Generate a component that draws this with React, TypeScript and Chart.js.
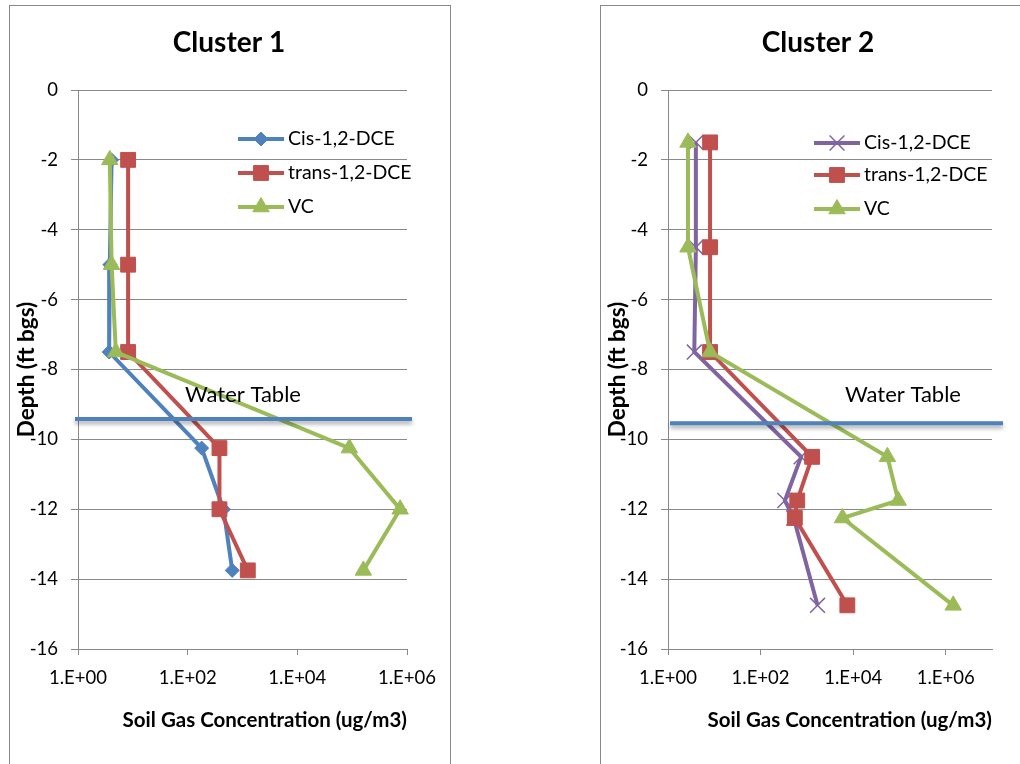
import React, { useEffect, useRef } from 'react';
import { Chart, registerables } from 'chart.js';
import { drawPoint } from 'chart.js/helpers';

Chart.register(...registerables);

const FONT = 'Lato, Carlito, "Liberation Sans", sans-serif';
const GRID = '#888888';

const seriesNames = ['Cis-1,2-DCE', 'trans-1,2-DCE', 'VC'];
const xTickValues = [1, 100, 10000, 1000000];
const xTickLabels = ['1.E+00', '1.E+02', '1.E+04', '1.E+06'];
const xAxisTitle = 'Soil Gas Concentration (ug/m3)';
const yAxisTitle = 'Depth (ft bgs)';
const waterTableLabel = 'Water Table';

// Cluster 1
const c1Depth = [-2, -5, -7.5, -10.25, -12, -13.75];
const c1Cis = [4.1, 3.8, 3.7, 180, 450, 650];
const c1Trans = [8.2, 8.2, 8.2, 380, 380, 1250];
const c1VC = [3.8, 4.1, 4.9, 89000, 750000, 160000];
const c1WaterTable = -9.42;
const c1XMax = 1000000;

// Cluster 2
const c2Depth = [-1.5, -4.5, -7.5, -10.5, -11.75, -12.25, -14.75];
const c2Cis = [4.0, 4.0, 3.7, 750, 335, 520, 1700];
const c2Trans = [8.1, 8.1, 8.1, 1300, 620, 550, 7500];
const c2VC = [2.7, 2.7, 8.1, 55000, 94000, 5900, 1450000];
const c2WaterTable = -9.54;
const c2XMax = 10000000;

type Series = {
  label: string;
  values: number[];
  color: string;
  pointStyle: string;
  radius: number;
  pointBorderWidth: number;
};

type PanelCfg = {
  title: string;
  depths: number[];
  series: Series[];
  xMax: number;
  waterTable: number;
  width: number;
  height: number;
  yAxisWidth: number;
  rightSpace: number;
  wtLeft: number;
  wtRight: number;
  wtLabelX: number;
  wtLabelY: number;
  legendX: number;
  legendRows: number[];
};

function buildChart(canvas: HTMLCanvasElement, p: PanelCfg) {
  const datasets = p.series.map((s, i) => ({
    label: s.label,
    data: p.depths.map((d, j) => ({ x: s.values[j], y: d })),
    xAxisID: 'x',
    yAxisID: 'y',
    showLine: true,
    borderColor: s.color,
    backgroundColor: s.color,
    borderWidth: 4,
    pointStyle: s.pointStyle,
    pointRadius: s.radius,
    pointHoverRadius: s.radius,
    pointBackgroundColor: s.color,
    pointBorderColor: s.color,
    pointBorderWidth: s.pointBorderWidth,
    tension: 0,
    clip: false,
    order: p.series.length - 1 - i,
  }));

  const overlay = {
    id: 'overlay',
    afterDatasetsDraw(chart: any) {
      const { ctx, chartArea, scales } = chart;
      // water table line
      const y = scales.y.getPixelForValue(p.waterTable);
      ctx.save();
      ctx.shadowColor = 'rgba(0,0,0,0.35)';
      ctx.shadowBlur = 4;
      ctx.shadowOffsetY = 3;
      ctx.strokeStyle = '#4F81BD';
      ctx.lineWidth = 4;
      ctx.beginPath();
      ctx.moveTo(chartArea.left + p.wtLeft, y);
      ctx.lineTo(chartArea.right + p.wtRight, y);
      ctx.stroke();
      ctx.restore();

      ctx.save();
      ctx.font = `22px ${FONT}`;
      ctx.fillStyle = '#000';
      ctx.textBaseline = 'alphabetic';
      ctx.textAlign = 'left';
      ctx.fillText(waterTableLabel, chartArea.left + p.wtLabelX, chartArea.top + p.wtLabelY);
      ctx.restore();

      // legend
      p.series.forEach((s, i) => {
        const ly = chartArea.top + p.legendRows[i];
        const lx = chartArea.left + p.legendX;
        ctx.save();
        ctx.strokeStyle = s.color;
        ctx.lineWidth = 4;
        ctx.beginPath();
        ctx.moveTo(lx, ly);
        ctx.lineTo(lx + 46, ly);
        ctx.stroke();
        ctx.fillStyle = s.color;
        ctx.strokeStyle = s.color;
        ctx.lineWidth = s.pointBorderWidth;
        drawPoint(ctx, { pointStyle: s.pointStyle as any, radius: s.radius, borderWidth: s.pointBorderWidth, rotation: 0 }, lx + 23, ly);
        ctx.fillStyle = '#000';
        ctx.font = `19.5px ${FONT}`;
        ctx.textBaseline = 'middle';
        ctx.textAlign = 'left';
        ctx.fillText(s.label, lx + 50, ly);
        ctx.restore();
      });
    },
  };

  return new Chart(canvas, {
    type: 'scatter',
    data: { datasets: datasets as any },
    options: {
      responsive: false,
      animation: false,
      devicePixelRatio: 1,
      layout: { padding: 0 },
      events: [],
      plugins: {
        legend: { display: false },
        tooltip: { enabled: false },
        title: {
          display: true,
          text: p.title,
          color: '#000',
          font: { family: FONT, size: 28, weight: 'bold' },
          padding: { top: 20, bottom: 30.4 },
        },
      },
      scales: {
        x: {
          type: 'logarithmic',
          position: 'bottom',
          min: 1,
          max: p.xMax,
          afterBuildTicks: (s: any) => {
            s.ticks = xTickValues.map((v) => ({ value: v }));
          },
          afterFit: (s: any) => {
            s.height = 115;
          },
          ticks: {
            callback: (_v: any, i: number) => xTickLabels[i],
            color: '#000',
            font: { family: FONT, size: 18.5 },
            padding: 12,
            maxRotation: 0,
            autoSkip: false,
          },
          grid: { drawOnChartArea: false, drawTicks: true, tickLength: 6, color: GRID, lineWidth: 1 },
          border: { display: true, color: GRID, width: 1 },
          title: {
            display: true,
            text: xAxisTitle,
            align: 'end',
            color: '#000',
            font: { family: FONT, size: 20.5, weight: 'bold' },
            padding: { top: 0, bottom: 31.5 },
          },
        } as any,
        y: {
          type: 'linear',
          position: 'left',
          min: -16,
          max: 0,
          afterFit: (s: any) => {
            s.width = p.yAxisWidth;
          },
          ticks: {
            stepSize: 2,
            color: '#000',
            font: { family: FONT, size: 18.5 },
            padding: 13,
          },
          grid: { color: GRID, lineWidth: 1, tickLength: 7, drawTicks: true },
          border: { display: true, color: GRID, width: 1 },
          title: {
            display: true,
            text: yAxisTitle,
            color: '#000',
            font: { family: FONT, size: 22.5, weight: 'bold' },
            padding: { top: 3, bottom: 0 },
          },
        } as any,
        spacer: {
          type: 'linear',
          position: 'right',
          display: true,
          afterFit: (s: any) => {
            s.width = p.rightSpace;
          },
          ticks: { display: false },
          grid: { display: false, drawTicks: false },
          border: { display: false },
        } as any,
      },
    },
    plugins: [overlay],
  });
}

function Panel({ cfg, left, top }: { cfg: PanelCfg; left: number; top: number }) {
  const ref = useRef<HTMLCanvasElement | null>(null);
  useEffect(() => {
    if (!ref.current) return;
    const chart = buildChart(ref.current, cfg);
    return () => chart.destroy();
  }, [cfg]);
  return (
    <canvas
      ref={ref}
      width={cfg.width}
      height={cfg.height}
      style={{ position: 'absolute', left, top, width: cfg.width, height: cfg.height }}
    />
  );
}

const panel1: PanelCfg = {
  title: 'Cluster 1',
  depths: c1Depth,
  series: [
    { label: seriesNames[0], values: c1Cis, color: '#4F81BD', pointStyle: 'rectRot', radius: 7, pointBorderWidth: 1 },
    { label: seriesNames[1], values: c1Trans, color: '#C0504D', pointStyle: 'rect', radius: 10.5, pointBorderWidth: 1 },
    { label: seriesNames[2], values: c1VC, color: '#9BBB59', pointStyle: 'triangle', radius: 9.5, pointBorderWidth: 1 },
  ],
  xMax: c1XMax,
  waterTable: c1WaterTable,
  width: 438,
  height: 758,
  yAxisWidth: 68,
  rightSpace: 41,
  wtLeft: -3,
  wtRight: 5,
  wtLabelX: 107,
  wtLabelY: 311.7,
  legendX: 160,
  legendRows: [49, 83, 117],
};

const panel2: PanelCfg = {
  title: 'Cluster 2',
  depths: c2Depth,
  series: [
    { label: seriesNames[0], values: c2Cis, color: '#8064A2', pointStyle: 'crossRot', radius: 10.5, pointBorderWidth: 1.5 },
    { label: seriesNames[1], values: c2Trans, color: '#C0504D', pointStyle: 'rect', radius: 10.5, pointBorderWidth: 1 },
    { label: seriesNames[2], values: c2VC, color: '#9BBB59', pointStyle: 'triangle', radius: 9.5, pointBorderWidth: 1 },
  ],
  xMax: c2XMax,
  waterTable: c2WaterTable,
  width: 434,
  height: 758,
  yAxisWidth: 67,
  rightSpace: 43,
  wtLeft: 2,
  wtRight: 11,
  wtLabelX: 177,
  wtLabelY: 311.7,
  legendX: 146,
  legendRows: [53, 85, 119],
};

export default function App() {
  return (
    <div
      style={{
        position: 'absolute',
        left: 0,
        top: 0,
        width: 1020,
        height: 764,
        overflow: 'hidden',
        background: '#fff',
      }}
    >
      <div
        style={{
          position: 'absolute',
          left: 9,
          top: 5,
          width: 442,
          height: 820,
          border: '1px solid #888',
          boxSizing: 'border-box',
        }}
      />
      <div
        style={{
          position: 'absolute',
          left: 600,
          top: 5,
          width: 480,
          height: 820,
          border: '1px solid #888',
          boxSizing: 'border-box',
        }}
      />
      <Panel cfg={panel1} left={10} top={6} />
      <Panel cfg={panel2} left={601} top={6} />
    </div>
  );
}
